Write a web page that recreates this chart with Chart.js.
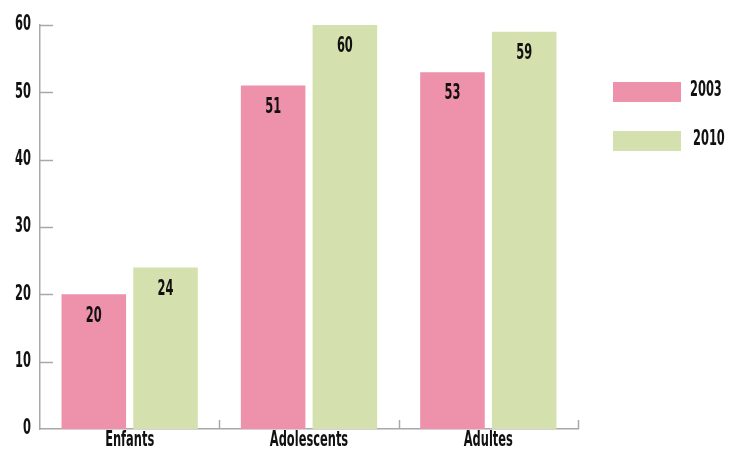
<!DOCTYPE html>
<html>
<head>
<meta charset="utf-8">
<script src="https://cdn.jsdelivr.net/npm/chart.js@4/dist/chart.umd.min.js"></script>
<style>
  html, body { margin: 0; padding: 0; background: #fff; }
  #wrap { width: 729px; height: 450px; }
</style>
</head>
<body>
<div id="wrap"><canvas id="myChart"></canvas></div>
<script>
var categories = ['Enfants', 'Adolescents', 'Adultes'];
var years = ['2003', '2010'];
var values2003 = [20, 51, 53];
var values2010 = [24, 60, 59];
var yTicks = [0, 10, 20, 30, 40, 50, 60];

var pink = '#ee91ab';
var green = '#d4e1ae';
var axisGray = '#a8a8a8';
var textColor = '#111';
var fontFam = "'DejaVu Sans Condensed', 'DejaVu Sans', sans-serif";

var ctx = document.getElementById('myChart').getContext('2d');

// the original uses a very narrow typeface, squeeze the text horizontally
function narrowText(c, txt, x, y, align){
    var squeeze = 0.62;
    c.save();
    c.font = 'bold 20.5px ' + fontFam;
    c.fillStyle = textColor;
    c.textBaseline = 'middle';
    var w = c.measureText(txt).width * squeeze;
    var left = x;
    if (align === 'center') left = x - w / 2;
    if (align === 'right') left = x - w;
    c.translate(left, y);
    c.scale(squeeze, 1);
    c.textAlign = 'left';
    c.fillText(txt, 0, 0);
    c.restore();
}

// tick marks point inward, labels drawn by hand
var axisDecor = {
    id: 'axisDecor',
    afterDatasetsDraw: function(chart){
        var c = chart.ctx;
        var x = chart.scales.x, y = chart.scales.y;
        c.save();
        c.strokeStyle = axisGray;
        c.lineWidth = 1.5;
        yTicks.forEach(function(v){
            if (v === 0) return;
            var py = Math.round(y.getPixelForValue(v)) + 0.5;
            c.beginPath();
            c.moveTo(x.left, py);
            c.lineTo(x.left + 13, py);
            c.stroke();
        });
        var step = (x.right - x.left) / categories.length;
        for (var i = 1; i <= categories.length; i++){
            var px = Math.round(x.left + step * i) + 0.5;
            c.beginPath();
            c.moveTo(px, y.bottom);
            c.lineTo(px, y.bottom - 9);
            c.stroke();
        }
        c.restore();

        yTicks.forEach(function(v){
            narrowText(c, String(v), x.left - 9, y.getPixelForValue(v), 'right');
        });
        categories.forEach(function(lab, i){
            narrowText(c, lab, x.getPixelForValue(i), y.bottom + 12, 'center');
        });
    }
};

var valueLabels = {
    id: 'valueLabels',
    afterDatasetsDraw: function(chart){
        var c = chart.ctx;
        chart.data.datasets.forEach(function(ds, di){
            chart.getDatasetMeta(di).data.forEach(function(bar, i){
                narrowText(c, String(ds.data[i]), bar.x, bar.y + 22, 'center');
            });
        });
    }
};

var sideLegend = {
    id: 'sideLegend',
    afterDraw: function(chart){
        var c = chart.ctx;
        chart.data.datasets.forEach(function(ds, di){
            var top = 82 + di * 49;
            c.fillStyle = ds.backgroundColor;
            c.fillRect(613, top, 68, 20);
            narrowText(c, ds.label, 690 + di * 3, top + 9, 'left');
        });
    }
};

new Chart(ctx, {
    type: 'bar',
    data: {
        labels: categories,
        datasets: [
            { label: years[0], data: values2003, backgroundColor: pink },
            { label: years[1], data: values2010, backgroundColor: green }
        ]
    },
    options: {
        responsive: true,
        maintainAspectRatio: false,
        animation: false,
        layout: { padding: { top: 25, right: 151, left: 0, bottom: 0 } },
        plugins: { legend: { display: false }, tooltip: { enabled: false } },
        scales: {
            x: {
                grid: { display: false },
                border: { display: true, color: axisGray, width: 1.5 },
                ticks: { display: false },
                afterFit: function(axis){ axis.height = 21; }
            },
            y: {
                min: 0, max: 60,
                afterBuildTicks: function(axis){
                    axis.ticks = yTicks.map(function(v){ return { value: v }; });
                },
                grid: { display: false },
                border: { display: true, color: axisGray, width: 1.5 },
                ticks: { display: false },
                afterFit: function(axis){ axis.width = 40; }
            }
        }
    },
    plugins: [axisDecor, valueLabels, sideLegend]
});
</script>
</body>
</html>
